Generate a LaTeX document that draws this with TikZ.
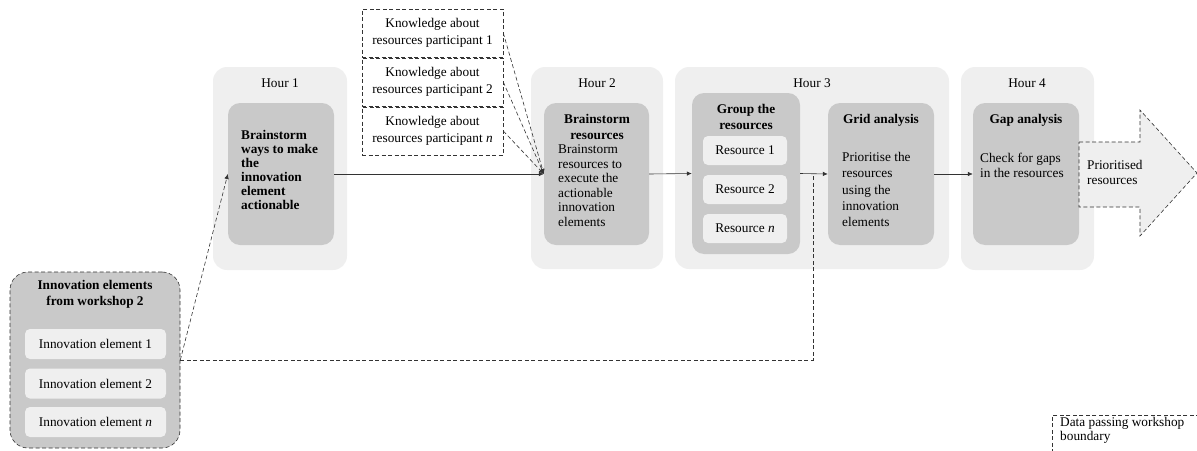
\documentclass[tikz,border=0pt]{standalone}
\usepackage{fontspec}
\setmainfont{Liberation Serif}
\usetikzlibrary{arrows.meta}
\definecolor{paneltint}{HTML}{EFEFEF}
\definecolor{stepfill}{HTML}{C9C9C9}
\definecolor{inkgrey}{HTML}{333333}
\begin{document}
\begin{tikzpicture}[x=1pt,y=-1pt,
  txt/.style={inner sep=0pt,font=\fontsize{13.3}{14.5}\selectfont},
  ttl/.style={inner sep=0pt,align=center,font=\fontsize{13.3}{16}\selectfont\bfseries},
  panel/.style={draw=none,fill=paneltint,rounded corners=14pt,inner sep=0pt},
  stepbox/.style={draw=none,fill=stepfill,rounded corners=12pt,inner sep=0pt},
  itembox/.style={draw=none,fill=paneltint,rounded corners=5pt,inner sep=0pt,
    font=\fontsize{13.3}{14.5}\selectfont},
  knowbox/.style={draw=inkgrey,line width=0.6pt,dash pattern=on 4pt off 2.5pt,
    fill=white,inner sep=0pt,minimum width=141pt,minimum height=48pt,align=center,
    font=\fontsize{13.3}{16.5}\selectfont},
  flow/.style={line width=0.6pt,draw=inkgrey,-{Latex[length=5pt,width=4.5pt]}},
  pass/.style={line width=0.6pt,draw=inkgrey,dash pattern=on 4pt off 2.5pt},
]
\clip (0,0) rectangle (1197,450);

% Hour 1
\node[panel,minimum width=134pt,minimum height=203pt] (p1) at (280,168.5) {};
\node[txt] (p1l) at (280,83) {Hour 1};
\node[stepbox,minimum width=106pt,minimum height=142pt] (s1) at (281,174) {};
\node[ttl,align=left,anchor=west,font=\fontsize{13.3}{14}\selectfont\bfseries] (s1t) at (241,170)
  {Brainstorm\\ways to make\\the\\innovation\\element\\actionable};

% Hour 2
\node[panel,minimum width=132pt,minimum height=202pt] (p2) at (597,168) {};
\node[txt] (p2l) at (597,83) {Hour 2};
\node[stepbox,minimum width=105pt,minimum height=142pt] (s2) at (596.5,174) {};
\node[ttl] (s2t) at (597,127) {Brainstorm\\resources};
\node[txt,align=left,anchor=west] (s2b) at (558,185.5)
  {Brainstorm\\resources to\\execute the\\actionable\\innovation\\elements};

% Hour 3
\node[panel,minimum width=274pt,minimum height=202pt] (p3) at (812,168) {};
\node[txt] (p3l) at (812,83) {Hour 3};
\node[stepbox,minimum width=108pt,minimum height=161pt] (grp) at (746,173.5) {};
\node[ttl] (grpt) at (746,117) {Group the\\resources};
\node[itembox,minimum width=84pt,minimum height=29pt] (r1) at (745,150.5) {Resource 1};
\node[itembox,minimum width=84pt,minimum height=29pt] (r2) at (745,189.5) {Resource 2};
\node[itembox,minimum width=84pt,minimum height=29pt] (rn) at (745,228.5) {Resource \textit{n}};
\node[stepbox,minimum width=106pt,minimum height=142pt] (grid) at (881,174) {};
\node[ttl] (gridt) at (881,120) {Grid analysis};
\node[txt,align=left,anchor=west,font=\fontsize{13.3}{16.2}\selectfont] (gridb) at (842,189.5)
  {Prioritise the\\resources\\using the\\innovation\\elements};

% Hour 4
\node[panel,minimum width=133pt,minimum height=203pt] (p4) at (1027.5,168.5) {};
\node[txt] (p4l) at (1027,83) {Hour 4};
\node[stepbox,minimum width=106pt,minimum height=142pt] (gap) at (1026,174) {};
\node[ttl] (gapt) at (1026,120) {Gap analysis};
\node[txt,align=left,anchor=west] (gapb) at (980,165.5) {Check for gaps\\in the resources};

% outgoing result arrow
\path[pass,fill=paneltint] (1079,142) -- (1140,142) -- (1140,110) -- (1197,173)
  -- (1140,236) -- (1140,207) -- (1079,207) -- cycle;
\node[txt,align=left,anchor=west] (out) at (1087,172.5) {Prioritised\\resources};

% participant knowledge
\node[knowbox] (k1) at (432.5,33) {Knowledge about\\resources participant 1};
\node[knowbox] (k2) at (432.5,82) {Knowledge about\\resources participant 2};
\node[knowbox] (kn) at (432.5,131) {Knowledge about\\resources participant \textit{n}};

% innovation elements from the previous workshop
\node[stepbox,draw=inkgrey,line width=0.6pt,dash pattern=on 4pt off 2.5pt,
  rounded corners=18pt,minimum width=170pt,minimum height=176pt] (inn) at (95,360) {};
\node[ttl] (innt) at (95,294) {Innovation elements\\from workshop 2};
\node[itembox,minimum width=141pt,minimum height=30pt] (e1) at (95.5,344) {Innovation element 1};
\node[itembox,minimum width=141pt,minimum height=30pt] (e2) at (95.5,383.5) {Innovation element 2};
\node[itembox,minimum width=141pt,minimum height=30pt] (en) at (95.5,422) {Innovation element \textit{n}};

% legend
\node[draw=inkgrey,line width=0.6pt,dash pattern=on 4pt off 2.5pt,anchor=north west,
  minimum width=200pt,minimum height=60pt] (leg) at (1052,415) {};
\node[txt,align=left,anchor=west] (legt) at (1060,430.5)
  {Data passing workshop\\boundary};

% process flow
\draw[flow] (s1.east) -- (s2.west);
\draw[flow] (s2.east) -- (grp.west);
\draw[flow] (grp.east) -- (grid.west);
\draw[flow] (grid.east) -- (gap.west);

% data passing across the workshop boundary
\draw[pass,-{Latex[length=5pt,width=4.5pt]}] (k1.east) -- (s2.west);
\draw[pass,-{Latex[length=5pt,width=4.5pt]}] (k2.east) -- (s2.west);
\draw[pass,-{Latex[length=5pt,width=4.5pt]}] (kn.east) -- (s2.west);
\draw[pass,-{Latex[length=5pt,width=4.5pt]}] (inn.east) -- (s1.west);
\coordinate (join) at (813,174);
\draw[pass] (inn.east) -| (join);
\end{tikzpicture}
\end{document}
